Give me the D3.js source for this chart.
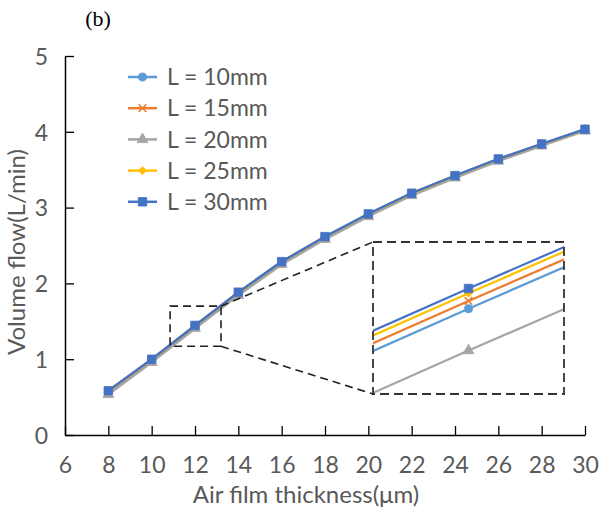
<!DOCTYPE html>
<html><head><meta charset="utf-8">
<script src="https://cdn.jsdelivr.net/npm/d3@7"></script>
<style>body{margin:0;background:#fff} svg{display:block}</style>
</head><body>
<svg id="chart" width="599" height="511"></svg>
<script>
// Air film thickness (µm) and volume flow (L/min) for each groove length
const thickness = [8, 10, 12, 14, 16, 18, 20, 22, 24, 26, 28, 30];
const seriesNames = ["L = 10mm", "L = 15mm", "L = 20mm", "L = 25mm", "L = 30mm"];
const flowL10 = [0.569, 0.986, 1.433, 1.871, 2.274, 2.604, 2.904, 3.177, 3.410, 3.631, 3.829, 4.024];
const flowL15 = [0.575, 0.991, 1.438, 1.876, 2.279, 2.609, 2.909, 3.182, 3.415, 3.635, 3.833, 4.028];
const flowL20 = [0.536, 0.959, 1.406, 1.844, 2.250, 2.582, 2.883, 3.160, 3.393, 3.614, 3.815, 4.012];
const flowL25 = [0.580, 0.996, 1.443, 1.881, 2.283, 2.613, 2.913, 3.186, 3.419, 3.639, 3.837, 4.031];
const flowL30 = [0.584, 0.999, 1.446, 1.884, 2.287, 2.617, 2.917, 3.190, 3.422, 3.642, 3.840, 4.034];
const xTicks = [6, 8, 10, 12, 14, 16, 18, 20, 22, 24, 26, 28, 30];
const yTicks = [0, 1, 2, 3, 4, 5];
// highlighted region on the main plot and the detail window's data range
const zoomX = [10.85, 13.2], zoomY = [1.17, 1.70];
const detailX = [11.878, 12.122], detailY = [1.378, 1.476];

const colors = ["#5B9BD5", "#ED7D31", "#A5A5A5", "#FFC000", "#4472C4"];
const symbols = [d3.symbolCircle, d3.symbolTimes, d3.symbolTriangle, d3.symbolDiamond2, d3.symbolSquare];
const symSizes = [52, 40, 52, 40, 72];
const allFlows = [flowL10, flowL15, flowL20, flowL25, flowL30];
const series = seriesNames.map((name, i) => ({
  name, color: colors[i], symbol: symbols[i], size: symSizes[i],
  points: thickness.map((t, j) => ({ x: t, y: allFlows[i][j] }))
}));

const font = "Lato, 'Open Sans', sans-serif";
const textColor = "#595959";
const svg = d3.select("#chart");

const x = d3.scaleLinear().domain([6, 30]).range([65, 585]);
const y = d3.scaleLinear().domain([0, 5]).range([435, 56]);

// axes with inward ticks
const xAxis = svg.append("g").attr("transform", `translate(0,${y(0)})`)
  .call(d3.axisBottom(x).tickValues(xTicks).tickFormat(d3.format("d"))
    .tickSize(-9).tickPadding(22).tickSizeOuter(0));
const yAxis = svg.append("g").attr("transform", `translate(${x(6)},0)`)
  .call(d3.axisLeft(y).tickValues(yTicks).tickFormat(d3.format("d"))
    .tickSize(-9).tickPadding(17).tickSizeOuter(0));
[xAxis, yAxis].forEach(g => {
  g.select(".domain").attr("stroke", "#000").attr("stroke-width", 1.5);
  g.selectAll(".tick line").attr("stroke", "#000").attr("stroke-width", 1.3);
  g.selectAll(".tick text").attr("font-family", font).attr("font-size", 23).attr("fill", textColor);
});
yAxis.selectAll(".tick text").attr("dy", "0.36em");

svg.append("text").attr("x", 306).attr("y", 503).attr("text-anchor", "middle")
  .attr("font-family", font).attr("font-size", 24).attr("fill", textColor)
  .text("Air film thickness(μm)");
svg.append("text").attr("transform", "translate(25,252) rotate(-90)").attr("text-anchor", "middle")
  .attr("font-family", font).attr("font-size", 24).attr("fill", textColor)
  .text("Volume flow(L/min)");
svg.append("text").attr("x", 98).attr("y", 26).attr("text-anchor", "middle")
  .attr("font-family", "'Liberation Serif', serif").attr("font-size", 22).attr("fill", "#000")
  .text("(b)");

function markerPath(s) { return d3.symbol().type(s.symbol).size(s.size)(); }
function drawMarker(g, s, px, py) {
  const isStroke = s.symbol === d3.symbolTimes;
  g.append("path").attr("d", markerPath(s)).attr("transform", `translate(${px},${py})`)
    .attr("fill", isStroke ? "none" : s.color)
    .attr("stroke", s.color).attr("stroke-width", isStroke ? 1.6 : 0.8);
}

// main series
const plot = svg.append("g");
series.forEach(s => {
  const line = d3.line().x(d => x(d.x)).y(d => y(d.y));
  plot.append("path").datum(s.points).attr("d", line)
    .attr("fill", "none").attr("stroke", s.color).attr("stroke-width", 2.5).attr("stroke-linejoin", "round");
  s.points.forEach(p => drawMarker(plot, s, x(p.x), y(p.y)));
});

// highlighted region and its detail window
const box = { x0: 373, x1: 564, y0: 242, y1: 394 };
const dash = { stroke: "#222", "stroke-width": 1.6, "stroke-dasharray": "8,5", fill: "none" };
function applyAttrs(sel, a) { Object.entries(a).forEach(([k, v]) => sel.attr(k, v)); return sel; }
applyAttrs(svg.append("rect").attr("x", x(zoomX[0])).attr("y", y(zoomY[1]))
  .attr("width", x(zoomX[1]) - x(zoomX[0])).attr("height", y(zoomY[0]) - y(zoomY[1])), dash);
applyAttrs(svg.append("line").attr("x1", x(zoomX[1])).attr("y1", y(zoomY[1]))
  .attr("x2", box.x0).attr("y2", box.y0), dash);
applyAttrs(svg.append("line").attr("x1", x(zoomX[1])).attr("y1", y(zoomY[0]))
  .attr("x2", box.x0).attr("y2", box.y1), dash);

svg.append("rect").attr("x", box.x0).attr("y", box.y0)
  .attr("width", box.x1 - box.x0).attr("height", box.y1 - box.y0).attr("fill", "#fff");
svg.append("clipPath").attr("id", "detailClip").append("rect")
  .attr("x", box.x0).attr("y", box.y0).attr("width", box.x1 - box.x0).attr("height", box.y1 - box.y0);
const dx = d3.scaleLinear().domain(detailX).range([box.x0, box.x1]);
const dy = d3.scaleLinear().domain(detailY).range([box.y1, box.y0]);
const detail = svg.append("g").attr("clip-path", "url(#detailClip)");
series.forEach(s => {
  const line = d3.line().x(d => dx(d.x)).y(d => dy(d.y));
  detail.append("path").datum(s.points.filter(p => p.x >= 10 && p.x <= 14)).attr("d", line)
    .attr("fill", "none").attr("stroke", s.color).attr("stroke-width", 2.2);
  s.points.filter(p => p.x > detailX[0] && p.x < detailX[1])
    .forEach(p => drawMarker(detail, s, dx(p.x), dy(p.y)));
});
applyAttrs(svg.append("rect").attr("x", box.x0).attr("y", box.y0)
  .attr("width", box.x1 - box.x0).attr("height", box.y1 - box.y0), dash)
  .attr("stroke", "#333").attr("stroke-width", 1.8).attr("stroke-dasharray", "9,5");

// legend
const legend = svg.append("g");
series.forEach((s, i) => {
  const ly = 77 + i * 31.2;
  legend.append("line").attr("x1", 128).attr("x2", 157).attr("y1", ly).attr("y2", ly)
    .attr("stroke", s.color).attr("stroke-width", 2.5);
  drawMarker(legend, s, 142.5, ly);
  legend.append("text").attr("x", 167).attr("y", ly).attr("dy", "0.36em")
    .attr("font-family", font).attr("font-size", 23).attr("fill", textColor).text(s.name);
});
</script>
</body></html>
